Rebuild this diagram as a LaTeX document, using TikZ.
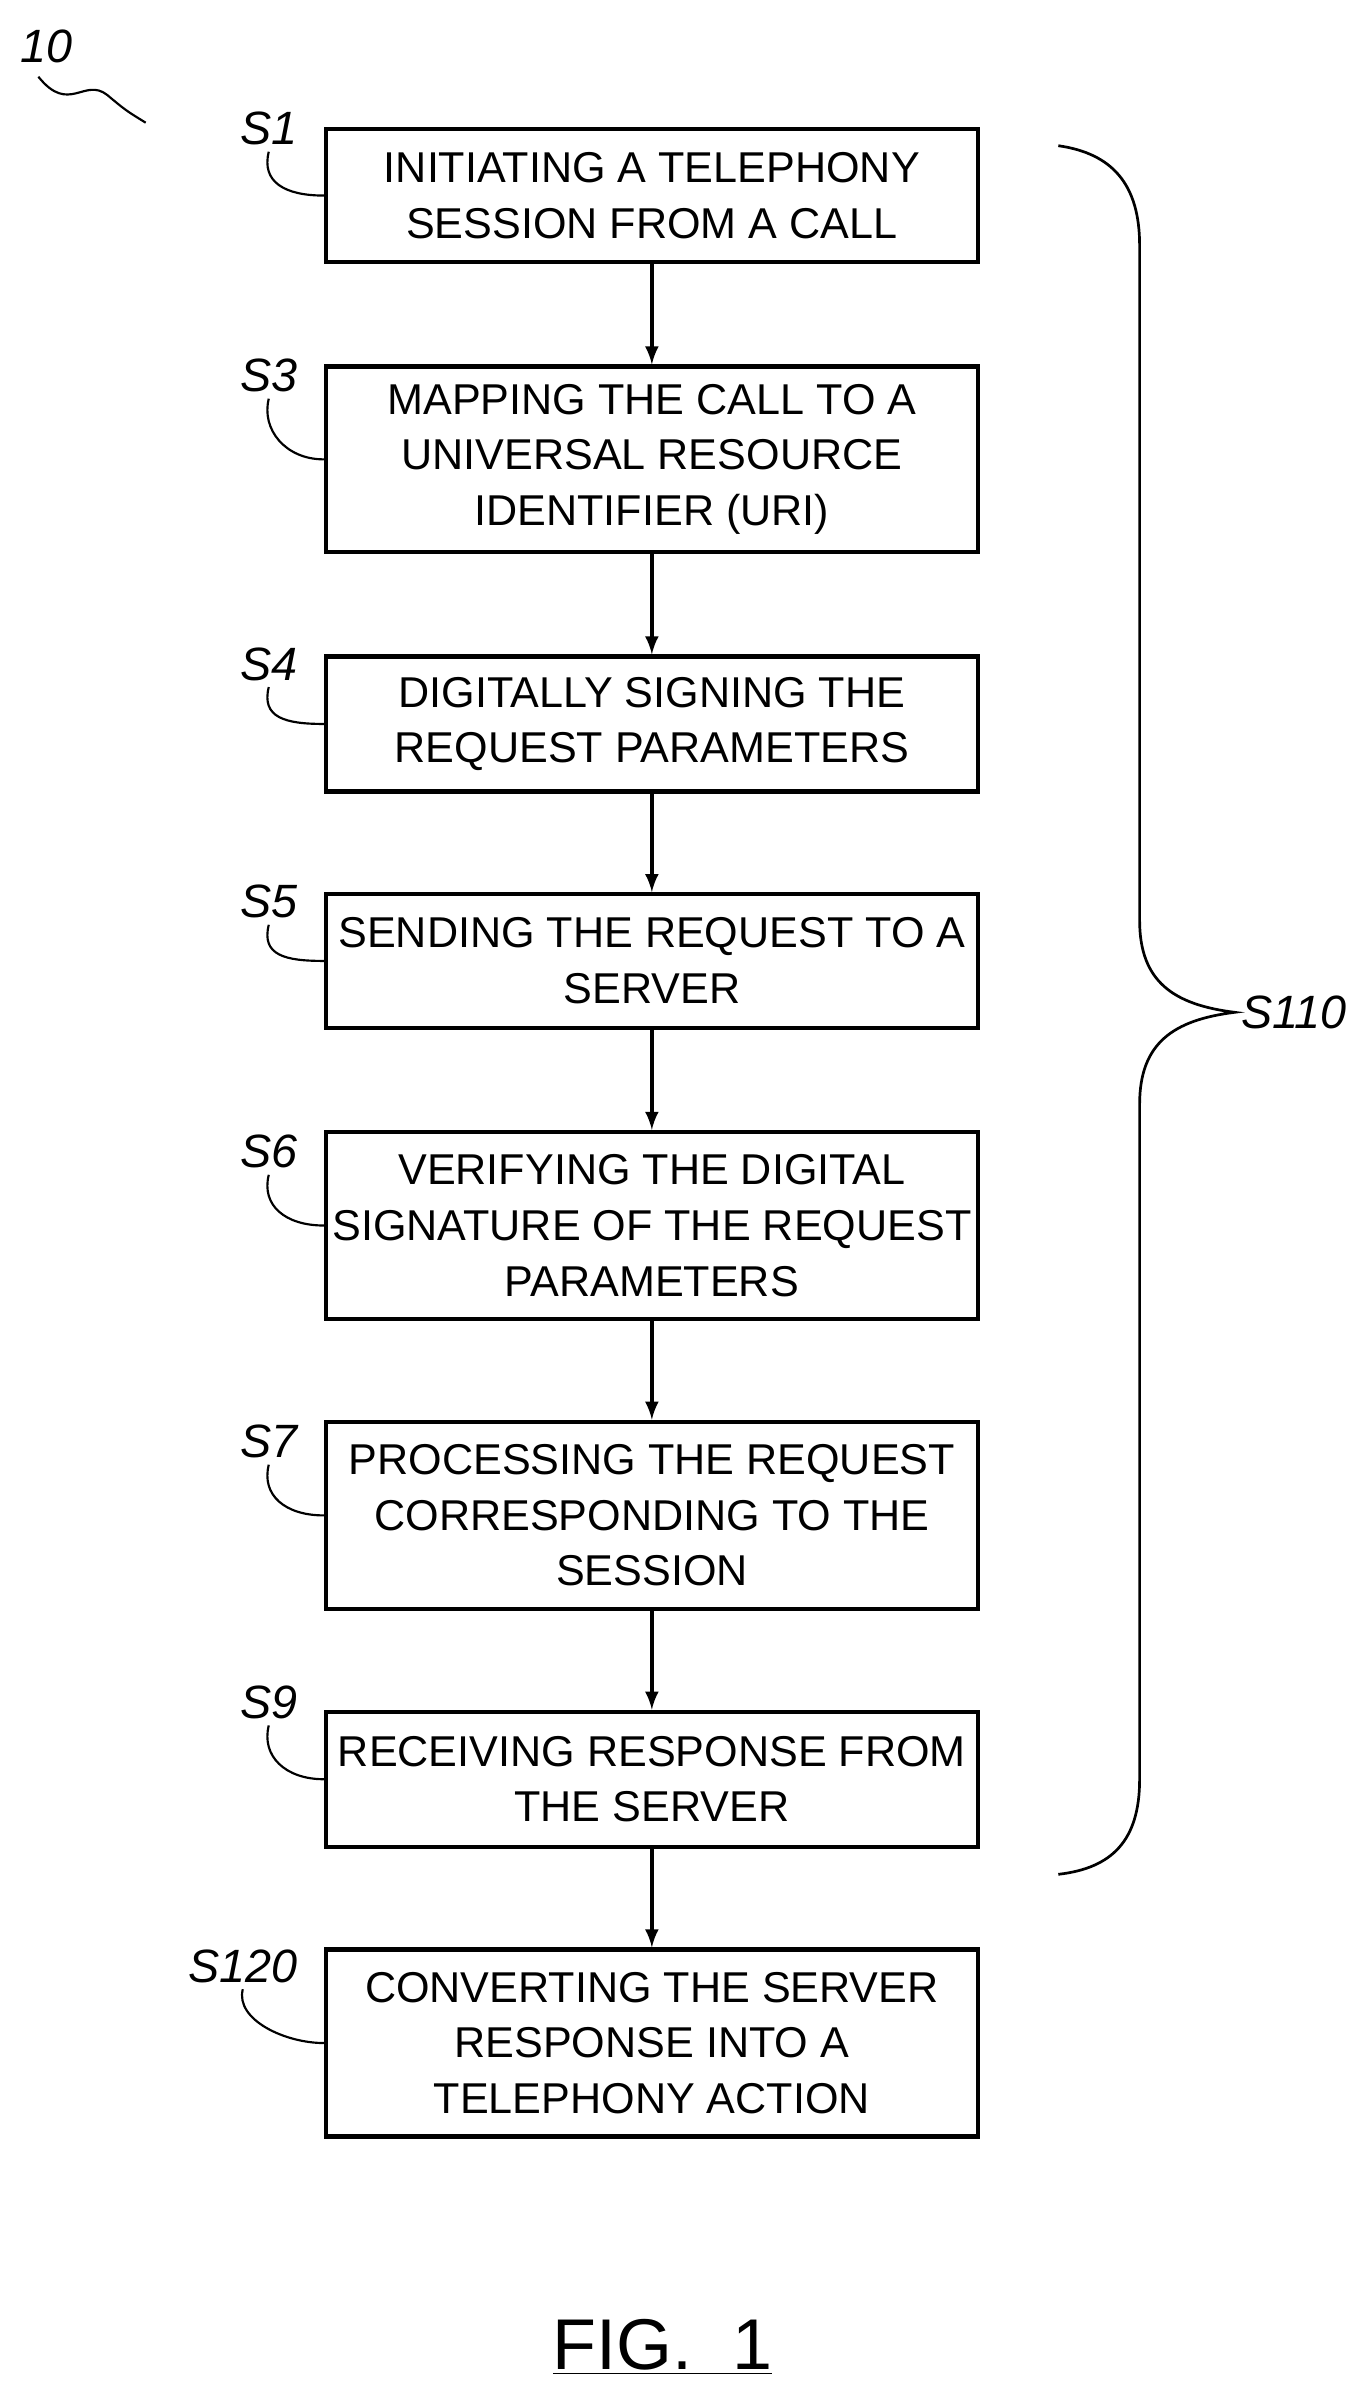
\documentclass[tikz,border=0pt]{standalone}
\usepackage{fontspec}
\setmainfont{Liberation Sans}
\usetikzlibrary{positioning}
\tikzset{
	stage/.style={draw, line width=2.4pt, minimum width=12.75cm, align=center, font=\fontsize{24}{31}\selectfont, inner sep=0pt},
	tag/.style={font=\itshape\fontsize{26}{30}\selectfont},
	flow/.style={->, line width=2.4pt, >=latex}
}
\begin{document}
\begin{tikzpicture}[x=0.03cm, y=-0.03cm]
	\useasboundingbox (0,0) rectangle (890,1568);
	\node[stage, minimum height=2.61cm] (s1) at (425,127.5) {INITIATING A TELEPHONY\\SESSION FROM A CALL};
	\node[stage, minimum height=3.63cm] (s3) at (425,299.5) {MAPPING THE CALL TO A\\UNIVERSAL RESOURCE\\IDENTIFIER (URI)};
	\node[stage, minimum height=2.64cm] (s4) at (425,472) {DIGITALLY SIGNING THE\\REQUEST PARAMETERS};
	\node[stage, minimum height=2.61cm] (s5) at (425,626.5) {SENDING THE REQUEST TO A\\SERVER};
	\node[stage, minimum height=3.66cm] (s6) at (425,799) {VERIFYING THE DIGITAL\\SIGNATURE OF THE REQUEST\\PARAMETERS};
	\node[stage, minimum height=3.66cm] (s7) at (425,988) {PROCESSING THE REQUEST\\CORRESPONDING TO THE\\SESSION};
	\node[stage, minimum height=2.64cm] (s9) at (425,1160) {RECEIVING RESPONSE FROM\\THE SERVER};
	\node[stage, minimum height=3.66cm] (s120) at (425,1332) {CONVERTING THE SERVER\\RESPONSE INTO A\\TELEPHONY ACTION};
	\draw[flow] (s1) -- (s3);
	\draw[flow] (s3) -- (s4);
	\draw[flow] (s4) -- (s5);
	\draw[flow] (s5) -- (s6);
	\draw[flow] (s6) -- (s7);
	\draw[flow] (s7) -- (s9);
	\draw[flow] (s9) -- (s120);
	% stage tags with leaders
	\foreach \n/\t/\y in {s1/S1/84, s3/S3/245, s4/S4/433, s5/S5/588, s6/S6/751, s7/S7/940, s9/S9/1110, s120/S120/1282}{
		\node[tag, anchor=east] (t\n) at (198,\y) {\t};
		\draw[line width=1.2pt] (t\n.south) .. controls +(-5,20) and +(-25,0) .. (\n.west);
	}
	% brace
	\node[tag, anchor=west] (s110) at (805,660) {S110};
	\draw[line width=1.5pt] (690,95) .. controls (725,100) and (743,120) .. (743,160) -- (743,600)
		.. controls (743,640) and (765,655) .. (s110.west)
		.. controls (765,665) and (743,680) .. (743,720) -- (743,1160)
		.. controls (743,1200) and (725,1218) .. (690,1222);
	\node[tag] (ref) at (30,30) {10};
	\draw[line width=1.2pt] (25,50) .. controls (45,75) and (55,50) .. (70,62) .. controls (82,72) .. (95,80);
	\node[font=\fontsize{40}{44}\selectfont\rmfamily] (fig) at (432,1530) {\underline{FIG.~~1}};
\end{tikzpicture}
\end{document}
